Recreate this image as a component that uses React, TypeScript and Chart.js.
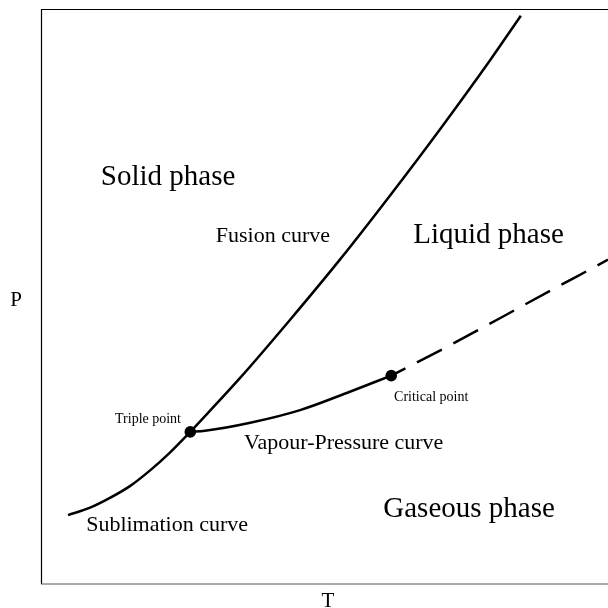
import React, { useEffect, useRef } from "react";
import { Chart, registerables } from "chart.js";

Chart.register(...registerables);

// Temperature (T) / pressure (P) in arbitrary units, 0..100 on each axis
const sublimationT = [4.6, 8.5, 12.0, 15.6, 19.1, 22.6, 26.2];
const sublimationP = [12.0, 13.3, 15.0, 17.1, 19.8, 22.9, 26.5];

const fusionT = [26.2, 35.0, 43.8, 52.7, 61.5, 70.3, 79.2, 84.6];
const fusionP = [26.5, 35.9, 46.0, 56.6, 67.7, 79.2, 91.3, 99.0];

const vapourT = [26.2, 28.8, 36.8, 45.6, 54.4, 61.7];
const vapourP = [26.5, 26.7, 28.1, 30.3, 33.5, 36.3];

const supercriticalT = [61.7, 72.1, 80.9, 89.8, 100.0, 106.0];
const supercriticalP = [36.3, 41.6, 46.3, 51.1, 56.5, 59.8];

const specialPointNames = ["Triple point", "Critical point"];
const specialPointT = [26.2, 61.7];
const specialPointP = [26.5, 36.3];

const regionLabels = ["Solid phase", "Liquid phase", "Gaseous phase"];
const regionLabelT = [10.4, 65.6, 60.3];
const regionLabelP = [69.5, 59.4, 11.7];

const curveLabels = ["Fusion curve", "Vapour-Pressure curve", "Sublimation curve"];
const curveLabelT = [30.7, 35.7, 7.8];
const curveLabelP = [59.6, 23.5, 9.3];

const pointLabelT = [12.9, 62.2];
const pointLabelP = [28.1, 31.9];

const xAxisTitle = "T";
const yAxisTitle = "P";

const zip = (xs: number[], ys: number[]) => xs.map((x, i) => ({ x, y: ys[i] }));

const SERIF = '"Liberation Serif", "Times New Roman", serif';

const annotationPlugin = {
  id: "phaseAnnotations",
  beforeDatasetsDraw(chart: any) {
    const { ctx, chartArea } = chart;
    ctx.save();
    ctx.strokeStyle = "#000";
    ctx.lineWidth = 1.2;
    ctx.beginPath();
    ctx.moveTo(chartArea.left - 0.5, chartArea.bottom);
    ctx.lineTo(chartArea.left - 0.5, chartArea.top - 0.5);
    ctx.lineTo(chartArea.right, chartArea.top - 0.5);
    ctx.stroke();
    ctx.strokeStyle = "#555";
    ctx.lineWidth = 1;
    ctx.beginPath();
    ctx.moveTo(chartArea.left - 1, chartArea.bottom);
    ctx.lineTo(chartArea.right, chartArea.bottom);
    ctx.stroke();
    ctx.restore();
  },
  afterDatasetsDraw(chart: any) {
    const { ctx, chartArea, scales } = chart;
    const xs = scales.x;
    const ys = scales.y;
    ctx.save();
    ctx.fillStyle = "#000";
    ctx.textAlign = "left";
    ctx.textBaseline = "alphabetic";
    const put = (text: string, t: number, p: number, size: number) => {
      ctx.font = `${size}px ${SERIF}`;
      ctx.fillText(text, xs.getPixelForValue(t), ys.getPixelForValue(p));
    };
    regionLabels.forEach((s, i) => put(s, regionLabelT[i], regionLabelP[i], 29));
    curveLabels.forEach((s, i) => put(s, curveLabelT[i], curveLabelP[i], 22));
    specialPointNames.forEach((s, i) => put(s, pointLabelT[i], pointLabelP[i], 14));
    // axis titles
    ctx.font = `21px ${SERIF}`;
    ctx.textAlign = "center";
    ctx.fillText(yAxisTitle, 16, (chartArea.top + chartArea.bottom) / 2 + 9);
    ctx.fillText(xAxisTitle, 328, chartArea.bottom + 23);
    ctx.restore();
  },
};

export default function App() {
  const canvasRef = useRef<HTMLCanvasElement | null>(null);

  useEffect(() => {
    const canvas = canvasRef.current;
    if (!canvas) return;
    const lineBase = {
      borderColor: "#000",
      borderWidth: 2.5,
      pointRadius: 0,
      fill: false,
      cubicInterpolationMode: "monotone" as const,
    };
    const chart = new Chart(canvas, {
      type: "line",
      data: {
        datasets: [
          { ...lineBase, label: "Sublimation curve", data: zip(sublimationT, sublimationP) },
          { ...lineBase, label: "Fusion curve", data: zip(fusionT, fusionP) },
          { ...lineBase, label: "Vapour-Pressure curve", data: zip(vapourT, vapourP) },
          {
            ...lineBase,
            label: "Supercritical",
            data: zip(supercriticalT, supercriticalP),
            borderDash: [28, 13],
            borderDashOffset: 12,
            borderCapStyle: "butt",
          },
          {
            label: "Special points",
            data: zip(specialPointT, specialPointP),
            showLine: false,
            pointRadius: 5.8,
            pointBackgroundColor: "#000",
            pointBorderWidth: 0,
            borderColor: "#000",
          } as any,
        ],
      },
      options: {
        responsive: false,
        animation: false,
        layout: { autoPadding: false, padding: { left: 42, right: 0, top: 10, bottom: 24 } },
        plugins: { legend: { display: false }, tooltip: { enabled: false } },
        scales: {
          x: { type: "linear", min: 0, max: 100, display: false },
          y: { type: "linear", min: 0, max: 100, display: false },
        },
      },
      plugins: [annotationPlugin],
    });
    return () => chart.destroy();
  }, []);

  return (
    <div style={{ position: "absolute", left: 0, top: 0, width: 608, height: 608, background: "#fff" }}>
      <canvas ref={canvasRef} width={608} height={608} />
    </div>
  );
}
